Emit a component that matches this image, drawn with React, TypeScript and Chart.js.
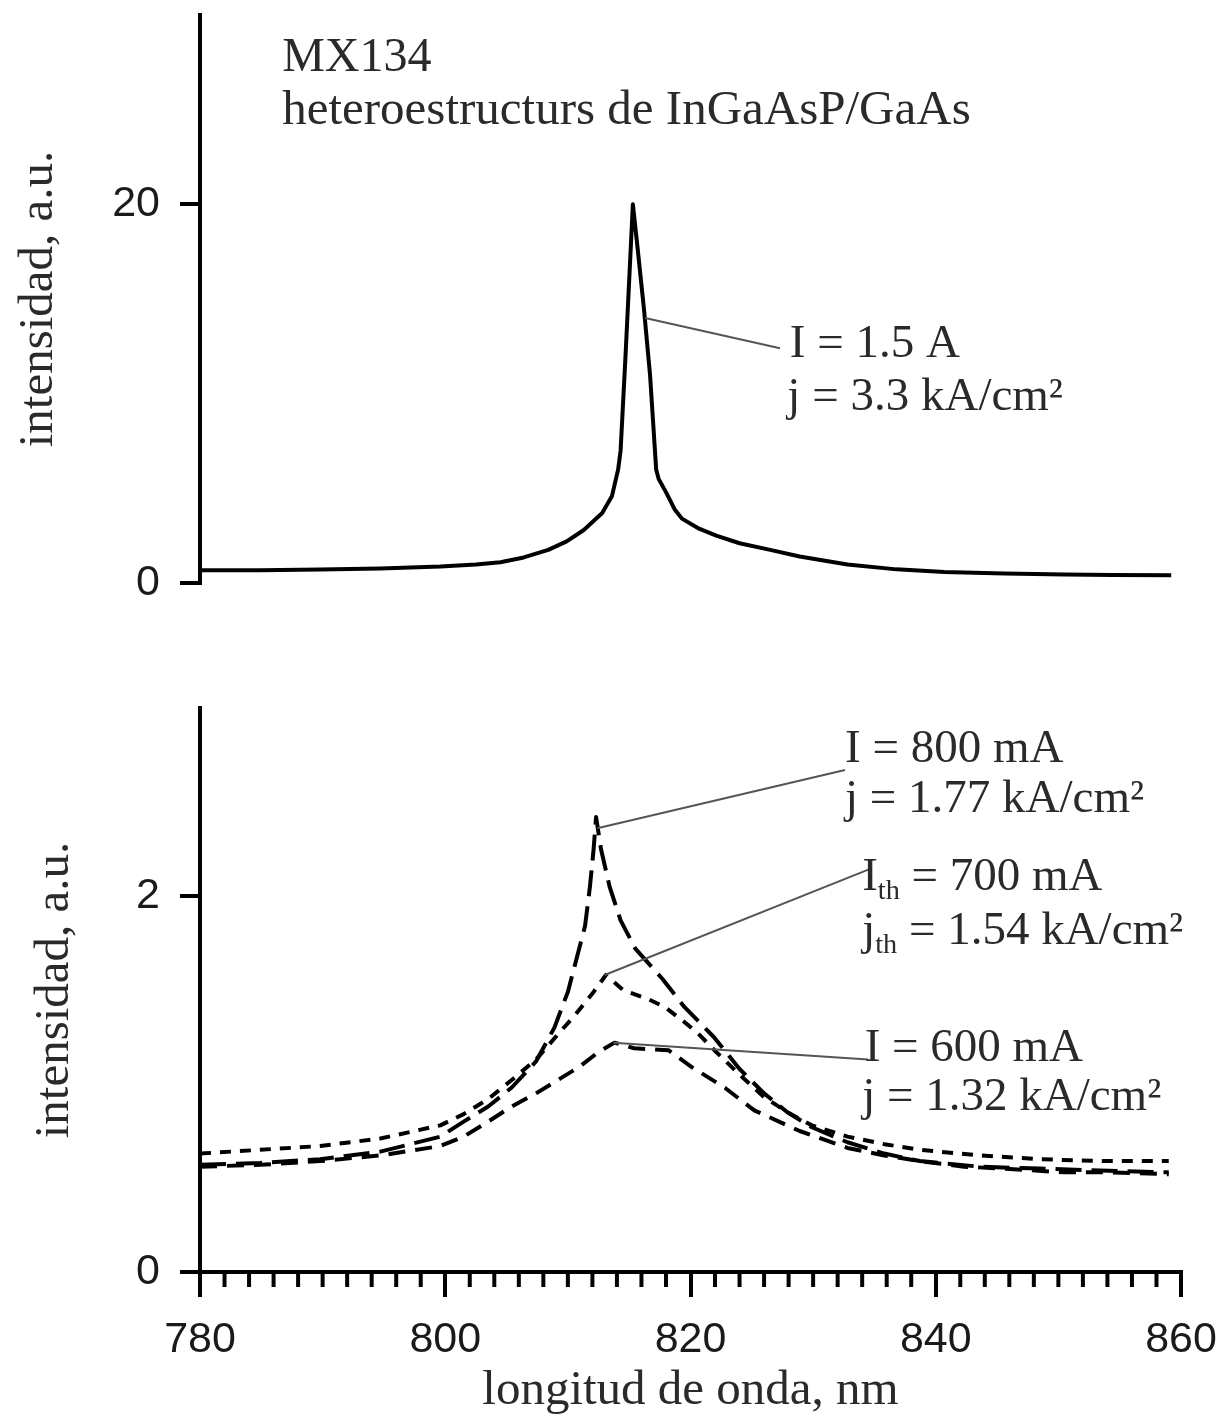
import React, { useEffect, useRef } from 'react';
import { Chart, registerables } from 'chart.js';

Chart.register(...registerables);

// ---------- data ----------
const xMin = 780;
const xMax = 860;
const xTickStep = 2;
const xMajorLabels = [780, 800, 820, 840, 860];
const topYTicks = [0, 20];
const bottomYTicks = [0, 2];

// I = 1.5 A (top panel)
const wl1500 = [780, 784.9, 789.8, 794.7, 799.6, 802.5, 804.5, 806.4, 808.4, 809.9, 811.3, 812.8, 813.6, 814.1, 814.3, 814.7, 815.3, 815.7, 816.2, 816.7, 817.2, 817.4, 818.0, 818.7, 819.3, 820.6, 822.1, 824.0, 826.5, 828.9, 832.8, 836.8, 840.7, 845.6, 850.5, 854.4, 859.2];
const int1500 = [0.68, 0.68, 0.71, 0.76, 0.87, 0.98, 1.1, 1.35, 1.75, 2.2, 2.8, 3.7, 4.6, 6.0, 7.0, 12.0, 20.0, 17.6, 14.5, 11.0, 6.0, 5.5, 4.8, 3.9, 3.4, 2.9, 2.5, 2.1, 1.75, 1.4, 0.98, 0.72, 0.58, 0.5, 0.45, 0.42, 0.41];

// I = 800 mA
const wl800 = [780, 784.9, 789.8, 794.7, 799.6, 801.5, 803.5, 805.4, 807.4, 808.9, 810.0, 811.4, 811.8, 812.1, 812.3, 812.7, 813.4, 814.3, 815.5, 817.7, 819.5, 821.9, 824.0, 826.0, 827.9, 829.9, 832.8, 835.8, 838.7, 843.6, 848.5, 853.4, 859];
const int800 = [0.57, 0.58, 0.6, 0.64, 0.72, 0.8, 0.88, 0.98, 1.12, 1.3, 1.49, 1.84, 2.05, 2.25, 2.42, 2.25, 2.05, 1.87, 1.72, 1.56, 1.41, 1.25, 1.08, 0.95, 0.85, 0.77, 0.69, 0.63, 0.59, 0.56, 0.55, 0.54, 0.53];

// Ith = 700 mA
const wl700 = [780, 784.9, 789.8, 794.7, 799.6, 801.5, 803.5, 805.4, 807.4, 809.4, 810.5, 812.1, 813.1, 814.5, 816.6, 817.9, 819.5, 820.6, 822.1, 824.0, 826.0, 827.9, 829.9, 832.8, 835.8, 838.7, 843.6, 848.5, 853.4, 859];
const int700 = [0.63, 0.65, 0.67, 0.71, 0.78, 0.84, 0.92, 1.02, 1.13, 1.28, 1.36, 1.49, 1.58, 1.5, 1.45, 1.41, 1.33, 1.27, 1.17, 1.05, 0.93, 0.85, 0.78, 0.72, 0.68, 0.65, 0.62, 0.6, 0.59, 0.59];

// I = 600 mA
const wl600 = [780, 784.9, 789.8, 794.7, 799.6, 801.5, 803.5, 805.4, 807.4, 809.4, 810.9, 812.5, 813.8, 815.4, 818.2, 820.1, 822.8, 825.2, 828.9, 832.8, 835.8, 838.7, 842.3, 845.6, 850.5, 854.4, 859];
const int600 = [0.56, 0.57, 0.59, 0.62, 0.67, 0.72, 0.8, 0.88, 0.95, 1.03, 1.09, 1.17, 1.22, 1.19, 1.18, 1.09, 0.98, 0.86, 0.75, 0.66, 0.62, 0.59, 0.56, 0.55, 0.53, 0.53, 0.52];

// ---------- annotations (anchored in data units) ----------
type Part = { t: string; sub?: boolean };
type Note = { parts: Part[]; x: number; y: number; size?: number };
type Leader = { from: [number, number]; to: [number, number] };

const topNotes: Note[] = [
  { parts: [{ t: 'MX134' }], x: 786.7, y: 27.7, size: 48 },
  { parts: [{ t: 'heteroestructurs de InGaAsP/GaAs' }], x: 786.7, y: 24.9, size: 49 },
  { parts: [{ t: 'I = 1.5 A' }], x: 828.1, y: 12.6 },
  { parts: [{ t: 'j = 3.3 kA/cm²' }], x: 827.9, y: 9.8 },
];
const topLeaders: Leader[] = [{ from: [816.3, 14.0], to: [827.3, 12.4] }];

const bottomNotes: Note[] = [
  { parts: [{ t: 'I = 800 mA' }], x: 832.6, y: 2.78 },
  { parts: [{ t: 'j = 1.77 kA/cm²' }], x: 832.6, y: 2.51 },
  { parts: [{ t: 'I' }, { t: 'th', sub: true }, { t: ' = 700 mA' }], x: 834.0, y: 2.1 },
  { parts: [{ t: 'j' }, { t: 'th', sub: true }, { t: ' = 1.54 kA/cm²' }], x: 834.0, y: 1.81 },
  { parts: [{ t: 'I = 600 mA' }], x: 834.2, y: 1.19 },
  { parts: [{ t: 'j = 1.32 kA/cm²' }], x: 834.0, y: 0.93 },
];
const bottomLeaders: Leader[] = [
  { from: [812.4, 2.36], to: [832.6, 2.67] },
  { from: [813.0, 1.58], to: [834.5, 2.14] },
  { from: [813.7, 1.22], to: [834.5, 1.13] },
];

// ---------- styling ----------
const SERIF = "'Liberation Serif', 'Times New Roman', serif";
const SANS = "'Liberation Sans', Arial, sans-serif";
const NOTE_SIZE = 47;
const TITLE_SIZE = 49;
const TICK_SIZE = 43;
const INK = '#1a1a1a';

const toPoints = (xs: number[], ys: number[]) => xs.map((x, i) => ({ x, y: ys[i] }));

function drawRich(ctx: CanvasRenderingContext2D, parts: Part[], x: number, y: number, size: number) {
  let cx = x;
  ctx.textBaseline = 'middle';
  ctx.textAlign = 'left';
  ctx.fillStyle = '#2a2a2a';
  for (const p of parts) {
    const s = p.sub ? size * 0.6 : size;
    ctx.font = `${s}px ${SERIF}`;
    ctx.fillText(p.t, cx, p.sub ? y + size * 0.3 : y);
    cx += ctx.measureText(p.t).width;
  }
}

function notesPlugin(notes: Note[], leaders: Leader[]) {
  return {
    id: 'notes',
    afterDatasetsDraw(chart: any) {
      const { ctx } = chart;
      const xs = chart.scales.x;
      const ys = chart.scales.y;
      ctx.save();
      ctx.strokeStyle = '#555';
      ctx.lineWidth = 2;
      for (const l of leaders) {
        ctx.beginPath();
        ctx.moveTo(xs.getPixelForValue(l.from[0]), ys.getPixelForValue(l.from[1]));
        ctx.lineTo(xs.getPixelForValue(l.to[0]), ys.getPixelForValue(l.to[1]));
        ctx.stroke();
      }
      for (const n of notes) {
        drawRich(ctx, n.parts, xs.getPixelForValue(n.x), ys.getPixelForValue(n.y), n.size || NOTE_SIZE);
      }
      ctx.restore();
    },
  };
}

const minorTicksPlugin = {
  id: 'minorTicks',
  afterDraw(chart: any) {
    const xs = chart.scales.x;
    if (!xs || !xs.options.display) return;
    const ctx = chart.ctx;
    ctx.save();
    ctx.strokeStyle = '#000';
    ctx.lineWidth = 4;
    for (const t of xs.ticks) {
      if (xMajorLabels.includes(t.value)) continue;
      const px = xs.getPixelForValue(t.value);
      ctx.beginPath();
      ctx.moveTo(px, xs.top);
      ctx.lineTo(px, xs.top + 15);
      ctx.stroke();
    }
    ctx.restore();
  },
};

function yScale(max: number, ticks: number[], titlePad: number) {
  return {
    type: 'linear',
    min: 0,
    max,
    afterBuildTicks: (s: any) => {
      s.ticks = ticks.map((v) => ({ value: v }));
    },
    afterFit: (s: any) => {
      s.width = 200;
      s.paddingTop = 0;
      s.paddingBottom = 0;
    },
    border: { display: true, color: '#000', width: 4 },
    grid: { display: true, drawOnChartArea: false, drawTicks: true, tickLength: 20, lineWidth: 4, color: '#000' },
    ticks: { color: INK, font: { family: SANS, size: TICK_SIZE }, padding: 20 },
    title: {
      display: true,
      text: 'intensidad, a.u.',
      color: '#2a2a2a',
      font: { family: SERIF, size: TITLE_SIZE },
      padding: { top: titlePad, bottom: 0 },
    },
  };
}

function TopChart() {
  const ref = useRef<HTMLCanvasElement>(null);
  useEffect(() => {
    if (!ref.current) return;
    const chart = new Chart(ref.current, {
      type: 'line',
      data: {
        datasets: [
          {
            label: 'I = 1.5 A',
            data: toPoints(wl1500, int1500),
            borderColor: '#000',
            borderWidth: 4,
            borderJoinStyle: 'round',
            pointRadius: 0,
            tension: 0,
            fill: false,
          },
        ],
      },
      options: {
        responsive: false,
        animation: false,
        layout: { padding: { left: 0, right: 46, top: 15, bottom: 57 } },
        plugins: { legend: { display: false }, tooltip: { enabled: false } },
        scales: {
          x: { type: 'linear', min: xMin, max: xMax, display: false },
          y: yScale(30, topYTicks, 10) as any,
        },
      },
      plugins: [notesPlugin(topNotes, topLeaders)],
    } as any);
    return () => chart.destroy();
  }, []);
  return <canvas ref={ref} width={1227} height={640} style={{ position: 'absolute', left: 0, top: 0 }} />;
}

function BottomChart() {
  const ref = useRef<HTMLCanvasElement>(null);
  useEffect(() => {
    if (!ref.current) return;
    const common = { borderColor: '#000', borderWidth: 4, borderJoinStyle: 'round', pointRadius: 0, tension: 0, fill: false };
    const chart = new Chart(ref.current, {
      type: 'line',
      data: {
        datasets: [
          { label: 'I = 800 mA', data: toPoints(wl800, int800), borderDash: [26, 10], ...common },
          { label: 'Ith = 700 mA', data: toPoints(wl700, int700), borderDash: [11, 9], ...common },
          { label: 'I = 600 mA', data: toPoints(wl600, int600), borderDash: [17, 10], ...common },
        ],
      },
      options: {
        responsive: false,
        animation: false,
        layout: { padding: { left: 0, right: 46, top: 68, bottom: 0 } },
        plugins: { legend: { display: false }, tooltip: { enabled: false } },
        scales: {
          x: {
            type: 'linear',
            min: xMin,
            max: xMax,
            afterFit: (s: any) => {
              s.height = 144;
              s.paddingLeft = 0;
              s.paddingRight = 0;
            },
            border: { display: true, color: '#000', width: 4 },
            grid: {
              display: true,
              drawOnChartArea: false,
              drawTicks: true,
              tickLength: 25,
              lineWidth: 4,
              color: (c: any) => (c.tick && xMajorLabels.includes(c.tick.value) ? '#000' : 'rgba(0,0,0,0)'),
            },
            ticks: {
              stepSize: xTickStep,
              autoSkip: false,
              maxRotation: 0,
              color: INK,
              font: { family: SANS, size: TICK_SIZE },
              padding: 17,
              callback: (v: any) => (xMajorLabels.includes(Number(v)) ? String(v) : ''),
            },
            title: {
              display: true,
              text: 'longitud de onda, nm',
              color: '#2a2a2a',
              font: { family: SERIF, size: TITLE_SIZE, lineHeight: 1.0 },
              padding: { top: 0, bottom: 0 },
            },
          },
          y: yScale(3, bottomYTicks, 26) as any,
        },
      },
      plugins: [notesPlugin(bottomNotes, bottomLeaders), minorTicksPlugin],
    } as any);
    return () => chart.destroy();
  }, []);
  return <canvas ref={ref} width={1227} height={776} style={{ position: 'absolute', left: 0, top: 640 }} />;
}

export default function App() {
  return (
    <div style={{ position: 'absolute', left: 0, top: 0, width: 1227, height: 1416, background: '#fff', overflow: 'hidden' }}>
      <TopChart />
      <BottomChart />
    </div>
  );
}
